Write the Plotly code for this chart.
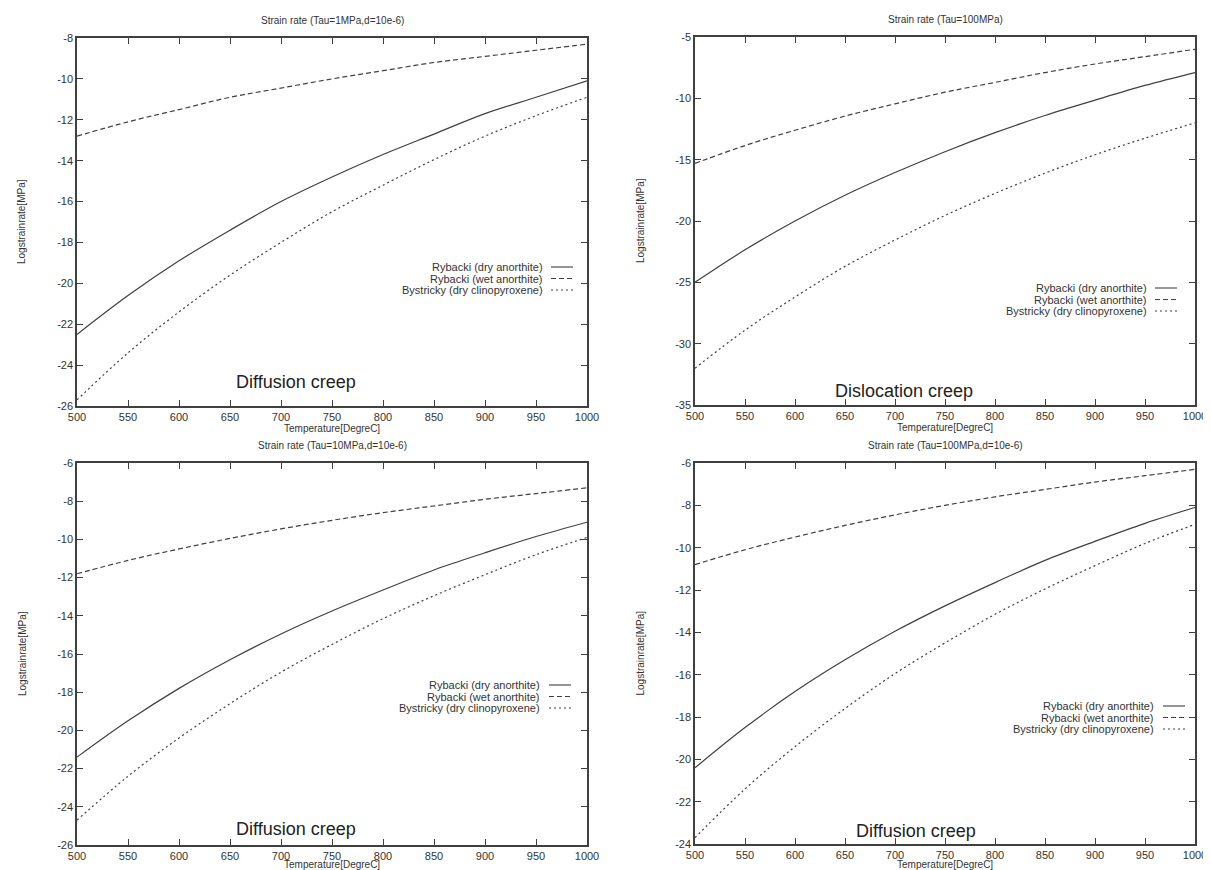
import plotly.graph_objects as go

# page body has an 8px margin, so the figure is drawn 8px in from the corner
OFF = 8
W, H = 1211 - OFF, 870 - OFF

temps = [500, 550, 600, 650, 700, 750, 800, 850, 900, 950, 1000]

# panel 1: Tau=1MPa, d=10e-6 (diffusion creep)
p1_dry = [-22.5, -20.6, -18.9, -17.4, -16.0, -14.8, -13.7, -12.7, -11.7, -10.9, -10.1]
p1_wet = [-12.8, -12.1, -11.5, -10.9, -10.45, -10.0, -9.6, -9.2, -8.9, -8.6, -8.3]
p1_cpx = [-25.7, -23.4, -21.4, -19.6, -18.0, -16.5, -15.2, -13.95, -12.8, -11.8, -10.9]

# panel 2: Tau=100MPa (dislocation creep)
p2_dry = [-25.0, -22.35, -20.0, -17.9, -16.05, -14.35, -12.8, -11.4, -10.15, -8.95, -7.9]
p2_wet = [-15.3, -13.85, -12.6, -11.45, -10.45, -9.5, -8.7, -7.9, -7.2, -6.6, -6.0]
p2_cpx = [-32.0, -28.9, -26.2, -23.7, -21.55, -19.55, -17.75, -16.1, -14.6, -13.25, -12.0]

# panel 3: Tau=10MPa, d=10e-6 (diffusion creep)
p3_dry = [-21.4, -19.5, -17.8, -16.3, -14.95, -13.75, -12.65, -11.6, -10.7, -9.85, -9.1]
p3_wet = [-11.8, -11.1, -10.5, -9.95, -9.45, -9.0, -8.6, -8.25, -7.9, -7.6, -7.3]
p3_cpx = [-24.7, -22.4, -20.4, -18.6, -16.95, -15.5, -14.15, -12.95, -11.85, -10.8, -9.9]

# panel 4: Tau=100MPa, d=10e-6 (diffusion creep)
p4_dry = [-20.4, -18.5, -16.8, -15.3, -13.95, -12.75, -11.65, -10.6, -9.7, -8.85, -8.1]
p4_wet = [-10.8, -10.1, -9.5, -8.95, -8.45, -8.0, -7.6, -7.25, -6.9, -6.6, -6.3]
p4_cpx = [-23.7, -21.4, -19.4, -17.6, -15.95, -14.5, -13.15, -11.95, -10.85, -9.8, -8.9]

series_names = ["Rybacki (dry anorthite)", "Rybacki (wet anorthite)", "Bystricky (dry clinopyroxene)"]
titles = ["Strain rate (Tau=1MPa,d=10e-6)", "Strain rate (Tau=100MPa)",
          "Strain rate (Tau=10MPa,d=10e-6)", "Strain rate (Tau=100MPa,d=10e-6)"]
labels = ["Diffusion creep", "Dislocation creep", "Diffusion creep", "Diffusion creep"]

y_ranges = [[-26, -8], [-35, -5], [-26, -6], [-24, -6]]
y_steps = [2, 5, 2, 2]

panels = [(p1_dry, p1_wet, p1_cpx), (p2_dry, p2_wet, p2_cpx),
          (p3_dry, p3_wet, p3_cpx), (p4_dry, p4_wet, p4_cpx)]


def px(x):
    return (x - OFF) / W


def py(y):
    return 1 - (y - OFF) / H


# plot boxes in screen pixels: left, right, top, bottom
boxes = [(77, 587, 38, 406), (695, 1195, 37, 405), (77, 587, 463, 845), (695, 1195, 463, 844)]
# legend: first row y, text right edge, key start
legend_pos = [(267, 545, 551), (288, 1149, 1155), (685, 542, 549), (706, 1156, 1163)]
label_pos = [(296, 382), (904, 391), (296, 829), (916, 831)]
xtitle_y = [428, 427, 864, 864]

dashes = ["solid", "5px,3px", "2px,3px"]
line_col = "#404040"
text_col = "#333333"
font = "Liberation Sans, Arial, sans-serif"

fig = go.Figure()
annotations = []
shapes = []


def note(text, x, y, size, **kw):
    d = dict(text=text, x=px(x), y=py(y), xref="paper", yref="paper", showarrow=False,
             xanchor="center", yanchor="middle",
             font=dict(size=size, color=kw.pop("color", text_col), family=font))
    d.update(kw)
    annotations.append(d)


for i, (series, box) in enumerate(zip(panels, boxes)):
    ax = "" if i == 0 else str(i + 1)
    for name, vals, dash in zip(series_names, series, dashes):
        fig.add_trace(go.Scatter(x=temps, y=vals, mode="lines", name=name,
                                 line=dict(color=line_col, width=1.2, dash=dash, shape="spline"),
                                 xaxis="x" + ax, yaxis="y" + ax, showlegend=False))

    l, r, t, b = box
    lo, hi = y_ranges[i]
    yt = list(range(lo, hi + 1, y_steps[i]))
    common = dict(ticks="inside", ticklen=6, tickcolor=line_col, mirror="allticks",
                  showline=True, linecolor=line_col, linewidth=1.5, showgrid=False,
                  zeroline=False, automargin=False, ticklabeloverflow="allow",
                  tickfont=dict(size=11, color=text_col, family=font))
    fig.update_layout(**{
        "xaxis" + ax: dict(domain=[px(l), px(r)], range=[500, 1000], anchor="y" + ax,
                           tickvals=temps, ticktext=[str(v) for v in temps], **common),
        "yaxis" + ax: dict(domain=[py(b), py(t)], range=[lo, hi], anchor="x" + ax,
                           tickvals=yt, ticktext=[str(v) for v in yt], **common),
    })

    note(titles[i], (l + r) / 2, t - 17, 10)
    note("Temperature[DegreC]", (l + r) / 2, xtitle_y[i], 10)
    note("Logstrainrate[MPa]", l - 55, (t + b) / 2, 10, textangle=-90)
    lx, ly = label_pos[i]
    note(labels[i], lx, ly, 18, color="#222222")

    # legend: text right aligned with a line key to its right
    ry, tx, kx = legend_pos[i]
    for j, (name, dash) in enumerate(zip(series_names, dashes)):
        yy = ry + j * 11.5
        note(name, tx, yy, 11, xanchor="right")
        shapes.append(dict(type="line", xref="paper", yref="paper", x0=px(kx), x1=px(kx + 22),
                           y0=py(yy), y1=py(yy), line=dict(color=line_col, width=1.1, dash=dash)))

fig.update_layout(width=W, height=H, margin=dict(l=0, r=0, t=0, b=0),
                  paper_bgcolor="white", plot_bgcolor="white",
                  annotations=annotations, shapes=shapes, showlegend=False)

fig.write_html("out.html")
